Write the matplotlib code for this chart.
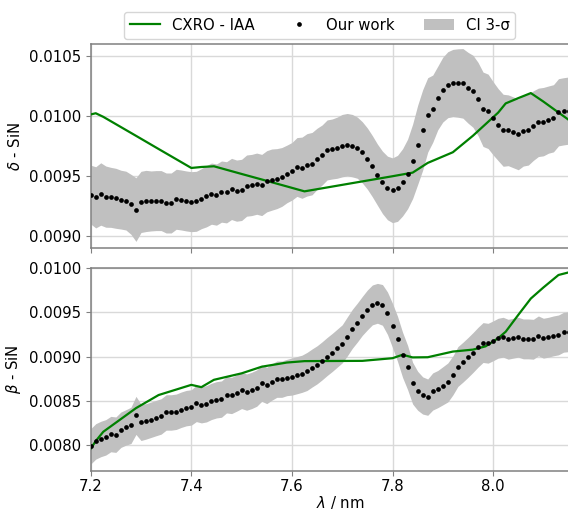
import numpy as np
import matplotlib
matplotlib.use("Agg")
import matplotlib.pyplot as plt

# measured wavelengths (nm)
wavelength = [
    7.20, 7.21, 7.22, 7.23, 7.24, 7.25, 7.26, 7.27, 7.28, 7.29,
    7.30, 7.31, 7.32, 7.33, 7.34, 7.35, 7.36, 7.37, 7.38, 7.39,
    7.40, 7.41, 7.42, 7.43, 7.44, 7.45, 7.46, 7.47, 7.48, 7.49,
    7.50, 7.51, 7.52, 7.53, 7.54, 7.55, 7.56, 7.57, 7.58, 7.59,
    7.60, 7.61, 7.62, 7.63, 7.64, 7.65, 7.66, 7.67, 7.68, 7.69,
    7.70, 7.71, 7.72, 7.73, 7.74, 7.75, 7.76, 7.77, 7.78, 7.79,
    7.80, 7.81, 7.82, 7.83, 7.84, 7.85, 7.86, 7.87, 7.88, 7.89,
    7.90, 7.91, 7.92, 7.93, 7.94, 7.95, 7.96, 7.97, 7.98, 7.99,
    8.00, 8.01, 8.02, 8.03, 8.04, 8.05, 8.06, 8.07, 8.08, 8.09,
    8.10, 8.11, 8.12, 8.13, 8.14, 8.15, 8.16,
]

# our work - delta
delta = [
    0.009342, 0.009319, 0.009347, 0.009325, 0.009319, 0.009311, 0.009300, 0.009292, 0.009261, 0.009217,
    0.009281, 0.009289, 0.009289, 0.009292, 0.009292, 0.009272, 0.009272, 0.009303, 0.009297, 0.009289,
    0.009283, 0.009286, 0.009308, 0.009328, 0.009350, 0.009342, 0.009367, 0.009361, 0.009389, 0.009375,
    0.009381, 0.009417, 0.009422, 0.009433, 0.009422, 0.009453, 0.009467, 0.009475, 0.009489, 0.009514,
    0.009536, 0.009572, 0.009566, 0.009590, 0.009600, 0.009640, 0.009672, 0.009714, 0.009722, 0.009733,
    0.009750, 0.009758, 0.009750, 0.009733, 0.009694, 0.009642, 0.009578, 0.009508, 0.009444, 0.009397,
    0.009378, 0.009394, 0.009444, 0.009514, 0.009619, 0.009756, 0.009881, 0.010006, 0.010058, 0.010147,
    0.010217, 0.010258, 0.010272, 0.010272, 0.010269, 0.010233, 0.010203, 0.010139, 0.010053, 0.010036,
    0.009978, 0.009925, 0.009878, 0.009878, 0.009861, 0.009844, 0.009875, 0.009883, 0.009917, 0.009944,
    0.009950, 0.009967, 0.009978, 0.010028, 0.010036, 0.010042, 0.010050,
]

# 3-sigma half width - delta
delta_ci = [
    2.45e-4, 2.55e-4, 2.60e-4, 2.55e-4, 2.50e-4, 2.50e-4, 2.45e-4, 2.45e-4, 2.50e-4, 2.65e-4,
    2.55e-4, 2.55e-4, 2.50e-4, 2.50e-4, 2.50e-4, 2.50e-4, 2.50e-4, 2.50e-4, 2.50e-4, 2.50e-4,
    2.50e-4, 2.50e-4, 2.50e-4, 2.55e-4, 2.55e-4, 2.55e-4, 2.55e-4, 2.55e-4, 2.55e-4, 2.55e-4,
    2.55e-4, 2.55e-4, 2.55e-4, 2.55e-4, 2.55e-4, 2.55e-4, 2.55e-4, 2.50e-4, 2.45e-4, 2.40e-4,
    2.40e-4, 2.45e-4, 2.55e-4, 2.60e-4, 2.60e-4, 2.55e-4, 2.50e-4, 2.50e-4, 2.50e-4, 2.55e-4,
    2.60e-4, 2.60e-4, 2.60e-4, 2.55e-4, 2.55e-4, 2.55e-4, 2.55e-4, 2.55e-4, 2.60e-4, 2.65e-4,
    2.70e-4, 2.75e-4, 2.80e-4, 2.90e-4, 3.10e-4, 3.30e-4, 3.35e-4, 3.10e-4, 2.80e-4, 2.65e-4,
    2.70e-4, 2.75e-4, 2.80e-4, 2.85e-4, 2.90e-4, 2.95e-4, 3.00e-4, 3.05e-4, 3.10e-4, 3.10e-4,
    3.05e-4, 3.00e-4, 3.00e-4, 2.95e-4, 2.95e-4, 2.95e-4, 2.95e-4, 2.95e-4, 2.90e-4, 2.85e-4,
    2.85e-4, 2.80e-4, 2.80e-4, 2.80e-4, 2.80e-4, 2.80e-4, 2.80e-4,
]

# our work - beta
beta = [
    0.007985, 0.008041, 0.008068, 0.008087, 0.008124, 0.008117, 0.008173, 0.008199, 0.008222, 0.008335,
    0.008256, 0.008267, 0.008286, 0.008305, 0.008323, 0.008368, 0.008368, 0.008376, 0.008399, 0.008417,
    0.008425, 0.008470, 0.008455, 0.008466, 0.008493, 0.008511, 0.008519, 0.008568, 0.008560, 0.008587,
    0.008617, 0.008598, 0.008617, 0.008643, 0.008699, 0.008673, 0.008711, 0.008744, 0.008744, 0.008763,
    0.008774, 0.008789, 0.008805, 0.008831, 0.008870, 0.008906, 0.008951, 0.009000, 0.009045, 0.009094,
    0.009143, 0.009226, 0.009312, 0.009383, 0.009459, 0.009526, 0.009583, 0.009601, 0.009583, 0.009489,
    0.009350, 0.009199, 0.009019, 0.008876, 0.008699, 0.008613, 0.008560, 0.008541, 0.008605, 0.008632,
    0.008669, 0.008707, 0.008786, 0.008887, 0.008936, 0.008989, 0.009045, 0.009105, 0.009158, 0.009150,
    0.009177, 0.009207, 0.009218, 0.009195, 0.009207, 0.009218, 0.009199, 0.009199, 0.009195, 0.009233,
    0.009207, 0.009218, 0.009233, 0.009244, 0.009274, 0.009280, 0.009290,
]

# 3-sigma half width - beta
beta_ci = [
    2.00e-4, 2.00e-4, 2.00e-4, 2.00e-4, 2.00e-4, 2.00e-4, 2.00e-4, 2.00e-4, 2.05e-4, 2.15e-4,
    2.05e-4, 2.00e-4, 2.00e-4, 2.00e-4, 2.00e-4, 2.00e-4, 2.00e-4, 2.00e-4, 2.00e-4, 2.00e-4,
    2.00e-4, 2.05e-4, 2.05e-4, 2.05e-4, 2.05e-4, 2.05e-4, 2.05e-4, 2.05e-4, 2.05e-4, 2.05e-4,
    2.05e-4, 2.05e-4, 2.05e-4, 2.05e-4, 2.05e-4, 2.05e-4, 2.05e-4, 2.05e-4, 2.05e-4, 2.05e-4,
    2.10e-4, 2.10e-4, 2.10e-4, 2.15e-4, 2.15e-4, 2.15e-4, 2.15e-4, 2.15e-4, 2.15e-4, 2.15e-4,
    2.15e-4, 2.20e-4, 2.20e-4, 2.20e-4, 2.20e-4, 2.25e-4, 2.25e-4, 2.25e-4, 2.30e-4, 2.40e-4,
    2.50e-4, 2.55e-4, 2.55e-4, 2.50e-4, 2.35e-4, 2.20e-4, 2.10e-4, 2.05e-4, 2.10e-4, 2.10e-4,
    2.15e-4, 2.20e-4, 2.20e-4, 2.25e-4, 2.25e-4, 2.25e-4, 2.25e-4, 2.25e-4, 2.25e-4, 2.25e-4,
    2.25e-4, 2.25e-4, 2.25e-4, 2.25e-4, 2.25e-4, 2.25e-4, 2.25e-4, 2.25e-4, 2.25e-4, 2.25e-4,
    2.25e-4, 2.25e-4, 2.25e-4, 2.25e-4, 2.25e-4, 2.25e-4, 2.25e-4,
]

# CXRO - IAA tabulated values
cxro_wl = [7.20, 7.21, 7.225, 7.29, 7.335, 7.40, 7.42, 7.445, 7.50, 7.54,
           7.59, 7.625, 7.74, 7.80, 7.82, 7.84, 7.87, 7.92, 7.96, 7.985,
           8.01, 8.025, 8.05, 8.075, 8.10, 8.13, 8.15, 8.17]
cxro_delta = [0.010010, 0.010020, 0.009990, 0.009832, 0.009722, 0.009564, 0.009572, 0.009578, 0.009514, 0.009468,
              0.009410, 0.009369, 0.009452, 0.009495, 0.009510, 0.009525, 0.009606, 0.009695, 0.009833, 0.009929,
              0.010025, 0.010102, 0.010146, 0.010188, 0.010117, 0.010026, 0.009966, 0.009906]
cxro_beta = [0.007959, 0.008045, 0.008150, 0.008417, 0.008565, 0.008680, 0.008654, 0.008737, 0.008810, 0.008885,
             0.008932, 0.008948, 0.008951, 0.008981, 0.009020, 0.008990, 0.008992, 0.009056, 0.009078, 0.009115,
             0.009207, 0.009280, 0.009470, 0.009655, 0.009780, 0.009921, 0.009950, 0.009960]

wl = np.array(wavelength)
FS = 10.7
SPINE = "#808080"

plt.rcParams["font.family"] = "DejaVu Sans"
plt.rcParams["font.size"] = FS

fig = plt.figure(figsize=(5.68, 5.13), dpi=100)
ax1 = fig.add_axes([0.1597, 0.5166, 0.88, 0.3976])
ax2 = fig.add_axes([0.1597, 0.0819, 0.88, 0.3957], sharex=ax1)

panels = [
    (ax1, delta, delta_ci, cxro_delta, r"$\delta$ - SiN", (0.008897, 0.010597),
     [0.0090, 0.0095, 0.0100, 0.0105]),
    (ax2, beta, beta_ci, cxro_beta, r"$\beta$ - SiN", (0.007707, 0.0100),
     [0.0080, 0.0085, 0.0090, 0.0095, 0.0100]),
]

for ax, vals, ci, cxro, label, ylim, yticks in panels:
    v = np.array(vals)
    c = np.array(ci)
    band = ax.fill_between(wl, v - c, v + c, color="silver", lw=0, label="CI 3-σ", zorder=1)
    line, = ax.plot(cxro_wl, cxro, color="green", lw=1.6, label="CXRO - IAA", zorder=3)
    dots, = ax.plot(wl, v, "o", color="black", ms=3.4, mew=0, label="Our work", zorder=4)
    ax.set_ylim(*ylim)
    ax.set_yticks(yticks)
    ax.set_yticklabels([f"{t:.4f}" for t in yticks])
    ax.set_ylabel(label, fontsize=FS)
    ax.grid(True, color="#d9d9d9", lw=1.0, zorder=0)
    ax.set_axisbelow(True)
    for s in ax.spines.values():
        s.set_color(SPINE)
        s.set_linewidth(1.1)
    ax.tick_params(colors=SPINE, labelcolor="black", labelsize=FS, length=3.5)

# axes run past the right edge of the picture
x_right = 7.2 + (0.88 * 568) / 503.0
ax1.set_xlim(7.2, x_right)
ax2.set_xticks([7.2, 7.4, 7.6, 7.8, 8.0])
ax2.set_xticklabels(["7.2", "7.4", "7.6", "7.8", "8.0"])
ax2.tick_params(axis="x", pad=2)
plt.setp(ax1.get_xticklabels(), visible=False)
ax2.set_xlabel(r"$\lambda$ / nm", fontsize=FS, labelpad=0)

fig.legend([line, dots, band], ["CXRO - IAA", "Our work", "CI 3-σ"],
           loc="center", bbox_to_anchor=(0.563, 0.951), ncol=3, fontsize=FS,
           frameon=True)

fig.savefig("out.png", dpi=100, facecolor="white")
plt.close(fig)
